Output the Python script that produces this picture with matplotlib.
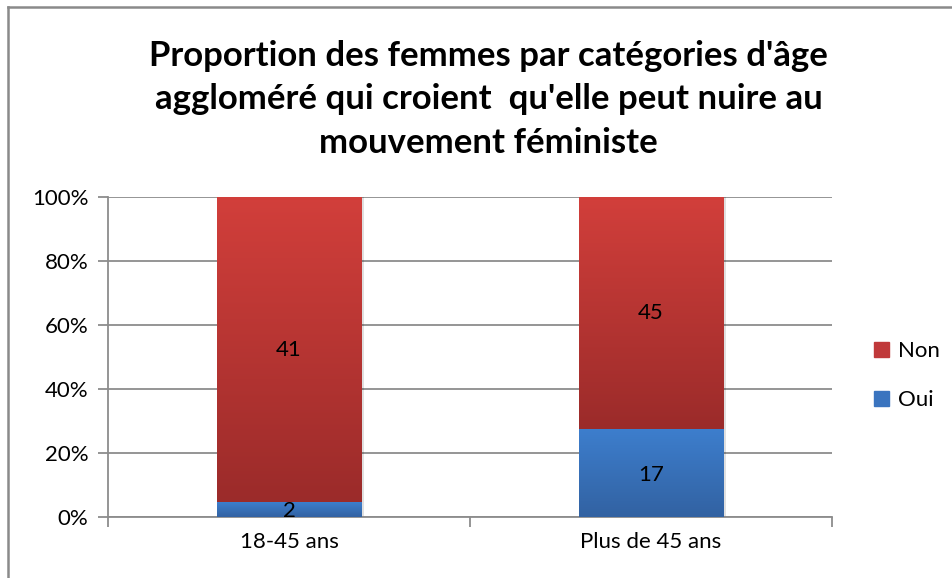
"""
Proportion des femmes par catégories d'âge - 100% stacked columns
"""
import numpy as np
import matplotlib
matplotlib.use('Agg')
from matplotlib import pyplot as plt
from matplotlib.colors import LinearSegmentedColormap
from matplotlib.ticker import FixedLocator, PercentFormatter

categories = ['18-45 ans', 'Plus de 45 ans']
oui = [2, 17]
non = [41, 45]
title = ("Proportion des femmes par catégories d'âge\n"
         "aggloméré qui croient  qu'elle peut nuire au\n"
         "mouvement féministe")

plt.rcParams['font.family'] = ['Lato', 'DejaVu Sans']

red_cmap = LinearSegmentedColormap.from_list('red', ['#9b2b2a', '#d23f3b'])
blue_cmap = LinearSegmentedColormap.from_list('blue', ['#3262a2', '#3d7ecd'])
grid_col = '#8c8c8c'


def fill_gradient(ax, patches, cmap):
    """Paint a vertical gradient inside every bar patch"""
    grad = np.linspace(0, 1, 256).reshape(-1, 1)
    for p in patches:
        x0, y0 = p.get_x(), p.get_y()
        w, h = p.get_width(), p.get_height()
        im = ax.imshow(grad, cmap=cmap, origin='lower', aspect='auto',
                       extent=[x0, x0 + w, y0, y0 + h], zorder=3)
        im.set_clip_path(p)


def plot_chart():
    fig = plt.figure(figsize=(9.52, 5.78), dpi=100)
    ax = fig.add_axes([0.1134, 0.1055, 0.7606, 0.5537])

    # chart border (top and left visible)
    fig.add_artist(plt.Line2D([0.0085, 1.0], [0.988, 0.988],
                              transform=fig.transFigure, color='#8a8a8a', lw=1.8))
    fig.add_artist(plt.Line2D([0.0085, 0.0085], [0.0, 0.988],
                              transform=fig.transFigure, color='#8a8a8a', lw=1.8))

    totals = np.array(oui) + np.array(non)
    p_oui = np.array(oui) / totals * 100
    p_non = np.array(non) / totals * 100
    x = np.arange(len(categories))
    width = 0.4

    b_oui = ax.bar(x, p_oui, width, color='none', edgecolor='none', zorder=3)
    b_non = ax.bar(x, p_non, width, bottom=p_oui, color='none',
                   edgecolor='none', zorder=3)
    # soft shadow right of the bars
    ax.bar(x + 0.006, p_oui + p_non, width, color='#000000', alpha=0.12,
           zorder=2)
    fill_gradient(ax, b_oui, blue_cmap)
    fill_gradient(ax, b_non, red_cmap)

    for i in range(len(categories)):
        ax.text(x[i], p_oui[i] / 2 - 0.5, str(oui[i]), ha='center', va='center',
                fontsize=16, zorder=5)
        ax.text(x[i], p_oui[i] + p_non[i] / 2, str(non[i]), ha='center',
                va='center', fontsize=16, zorder=5)

    ax.set_xlim(-0.5, 1.5)
    ax.set_ylim(0, 100)
    ax.set_xticks(x)
    ax.set_xticklabels(categories, fontsize=16)
    ax.xaxis.set_minor_locator(FixedLocator([-0.5, 0.5, 1.5]))
    ax.tick_params(axis='x', which='major', length=0, pad=11)
    ax.tick_params(axis='x', which='minor', length=7, color=grid_col, width=1.3)
    ax.set_yticks(np.arange(0, 101, 20))
    ax.yaxis.set_major_formatter(PercentFormatter(decimals=0))
    ax.tick_params(axis='y', length=7, color=grid_col, width=1.3, labelsize=16,
                   pad=7)
    ax.grid(axis='y', color=grid_col, lw=1.3, zorder=0)
    for s in ['top', 'right']:
        ax.spines[s].set_visible(False)
    for s in ['left', 'bottom']:
        ax.spines[s].set_color(grid_col)
        ax.spines[s].set_linewidth(1.3)

    fig.text(0.513, 0.828, title, ha='center', va='center', fontsize=25,
             fontweight='bold', linespacing=1.45)

    h_non = plt.Rectangle((0, 0), 1, 1, color='#c0393a')
    h_oui = plt.Rectangle((0, 0), 1, 1, color='#3a74bf')
    fig.legend([h_non, h_oui], ['Non', 'Oui'], loc='center left',
               bbox_to_anchor=(0.918, 0.35), frameon=False, fontsize=16,
               handlelength=0.7, handleheight=0.7, handletextpad=0.4,
               labelspacing=1.3, borderaxespad=0, borderpad=0)

    fig.savefig('out.png', dpi=100)


if __name__ == '__main__':
    plot_chart()
